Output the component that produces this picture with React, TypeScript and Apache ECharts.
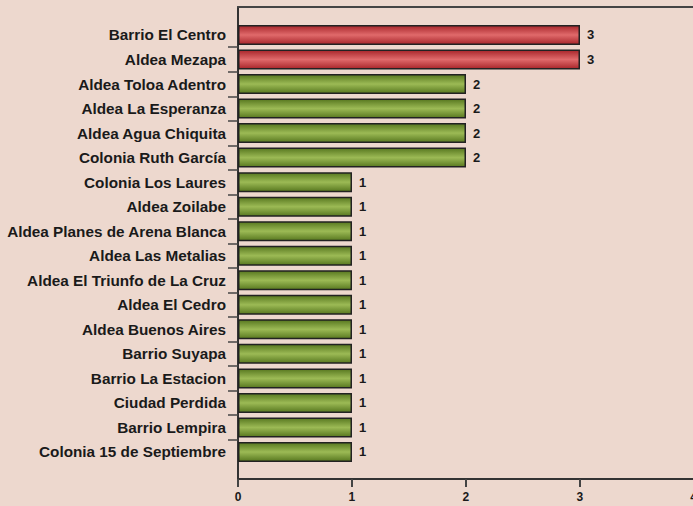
import React, { useEffect, useRef } from "react";
import * as echarts from "echarts";

const categories = [
  "Barrio El Centro",
  "Aldea Mezapa",
  "Aldea Toloa Adentro",
  "Aldea La Esperanza",
  "Aldea Agua Chiquita",
  "Colonia Ruth García",
  "Colonia Los Laures",
  "Aldea Zoilabe",
  "Aldea Planes de Arena Blanca",
  "Aldea Las Metalias",
  "Aldea El Triunfo de La Cruz",
  "Aldea El Cedro",
  "Aldea Buenos Aires",
  "Barrio Suyapa",
  "Barrio La Estacion",
  "Ciudad Perdida",
  "Barrio Lempira",
  "Colonia 15 de Septiembre",
];
const values = [3, 3, 2, 2, 2, 2, 1, 1, 1, 1, 1, 1, 1, 1, 1, 1, 1, 1];
const xTicks = [0, 1, 2, 3, 4];

const redGrad = new echarts.graphic.LinearGradient(0, 0, 0, 1, [
  { offset: 0, color: "#a8262b" },
  { offset: 0.5, color: "#e06a6b" },
  { offset: 1, color: "#a8262b" },
]);
const greenGrad = new echarts.graphic.LinearGradient(0, 0, 0, 1, [
  { offset: 0, color: "#587820" },
  { offset: 0.5, color: "#9cba55" },
  { offset: 1, color: "#587820" },
]);

export default function App() {
  const ref = useRef<HTMLDivElement>(null);
  useEffect(() => {
    if (!ref.current) return;
    const chart = echarts.init(ref.current, null, { renderer: "svg" });
    const band = 24.53;
    const barTop = 22.7;
    const n = categories.length;
    chart.setOption({
      animation: false,
      backgroundColor: "#edd8ce",
      textStyle: { fontFamily: "Liberation Sans, Arial, sans-serif" },
      grid: [
        { left: 238, top: 7, width: 456, height: 472, containLabel: false },
        { left: 238, top: barTop, width: 456, height: band * n, containLabel: false },
        { left: 238, top: barTop + band, width: 456, height: band * (n - 2), containLabel: false },
      ],
      xAxis: [
        {
          gridIndex: 0,
          type: "value",
          min: xTicks[0],
          max: xTicks[xTicks.length - 1],
          interval: 1,
          position: "bottom",
          axisLine: { show: true, lineStyle: { color: "#333", width: 2 } },
          axisTick: { show: true, length: 8, lineStyle: { color: "#444", width: 2 } },
          axisLabel: { show: true, margin: 12, fontSize: 12, fontWeight: "bold", color: "#1a1a1a" },
          splitLine: { show: false },
        },
        {
          gridIndex: 0,
          type: "value",
          min: 0,
          max: 4,
          position: "top",
          axisLine: { show: true, lineStyle: { color: "#444", width: 2 } },
          axisTick: { show: false },
          axisLabel: { show: false },
          splitLine: { show: false },
        },
        { gridIndex: 1, type: "value", min: 0, max: 4, show: false },
        { gridIndex: 2, type: "value", min: 0, max: 4, show: false },
      ],
      yAxis: [
        {
          gridIndex: 0,
          type: "value",
          min: 0,
          max: 1,
          axisLine: { show: true, lineStyle: { color: "#333", width: 2 } },
          axisTick: { show: false },
          axisLabel: { show: false },
          splitLine: { show: false },
        },
        {
          gridIndex: 1,
          type: "category",
          data: categories,
          inverse: true,
          axisLine: { show: false },
          axisTick: { show: false },
          axisLabel: { margin: 12, fontSize: 15.3, fontWeight: "bold", color: "#1a1a1a" },
          splitLine: { show: false },
        },
        {
          gridIndex: 2,
          type: "value",
          min: 1,
          max: n - 1,
          interval: 1,
          axisLine: { show: false },
          axisTick: { show: true, length: 10, lineStyle: { color: "#444", width: 1.5 } },
          axisLabel: { show: false },
          splitLine: { show: false },
        },
      ],
      series: [
        {
          type: "bar",
          xAxisIndex: 2,
          yAxisIndex: 1,
          barWidth: 20,
          data: values.map((v) => ({
            value: v,
            itemStyle: { color: v >= 3 ? redGrad : greenGrad },
          })),
          itemStyle: { borderColor: "#222", borderWidth: 1.5 },
          label: {
            show: true,
            position: "right",
            distance: 7,
            fontSize: 13,
            fontWeight: "bold",
            color: "#1a1a1a",
          },
        },
      ],
    });
    return () => chart.dispose();
  }, []);
  return (
    <div
      ref={ref}
      style={{ position: "absolute", left: 0, top: 0, width: 700, height: 506 }}
    />
  );
}
